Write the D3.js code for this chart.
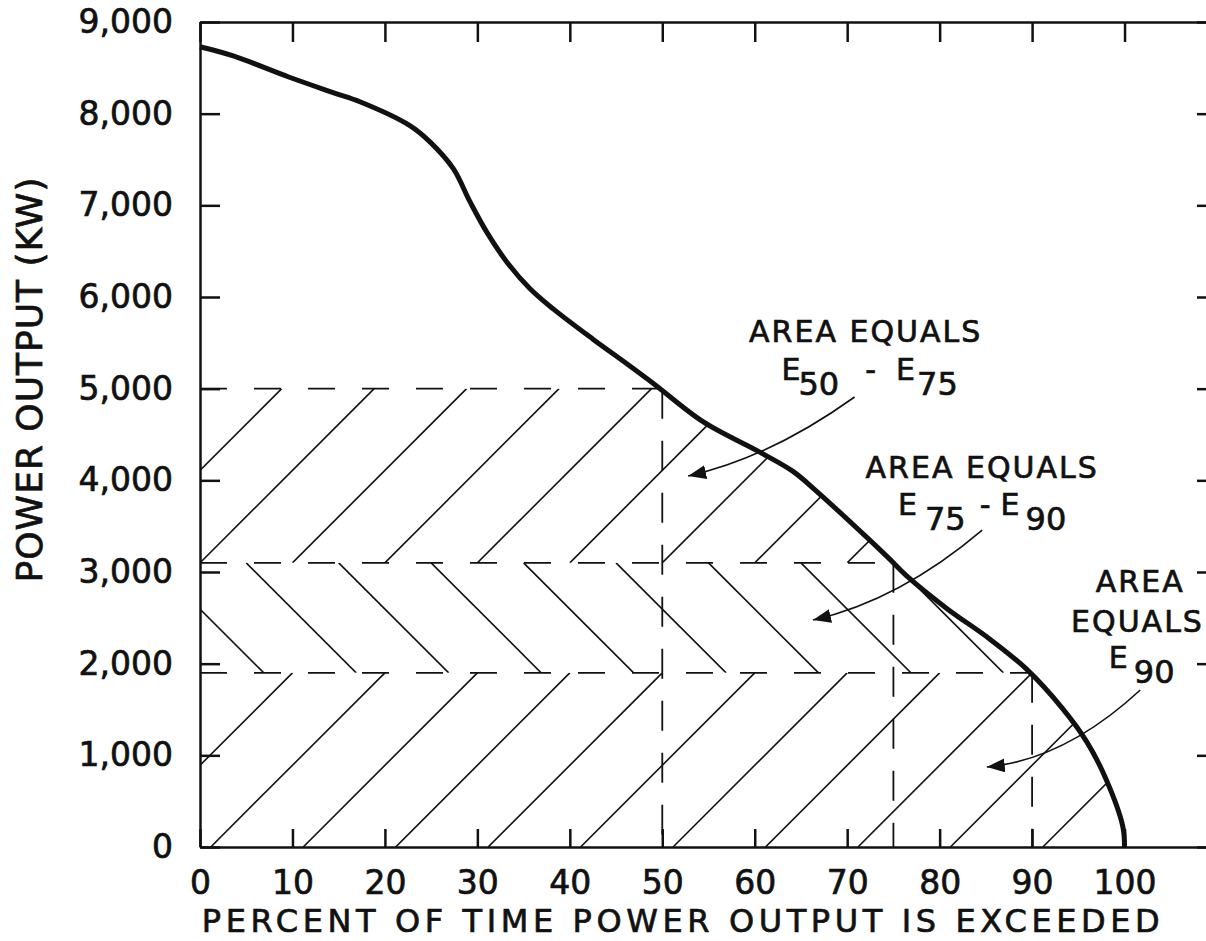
<!DOCTYPE html>
<html>
<head>
<meta charset="utf-8">
<script src="https://cdn.jsdelivr.net/npm/d3@7"></script>
<style>
	body { margin: 0; background: #fff; }
	svg { display: block; }
	text { font-family: "DejaVu Sans", sans-serif; fill: #111; stroke: #111; stroke-width: 0.7px; }
</style>
</head>
<body>
<div id="chart-area"></div>
<script>
// duration curve
var pctValues = [0, 3.6, 9.6, 14.4, 17.3, 22.7, 24.9, 27.4, 29.2, 31, 33.2, 35.7, 38.2, 42.5, 46.2, 49, 54.4, 60.5, 64.1, 66.7, 72.1, 74.6, 76.4, 80.8, 85.4, 89.4, 93.3, 95.9, 98, 99.8, 100];
var powerValues = [8730, 8630, 8400, 8230, 8130, 7870, 7690, 7400, 7040, 6710, 6380, 6090, 5870, 5540, 5270, 5060, 4640, 4310, 4100, 3880, 3380, 3140, 2960, 2600, 2270, 1940, 1510, 1150, 740, 230, 0];

var xTicks = [0, 10, 20, 30, 40, 50, 60, 70, 80, 90, 100];
var yTicks = [0, 1000, 2000, 3000, 4000, 5000, 6000, 7000, 8000, 9000];

// E50, E75, E90
var exceedPct = [50, 75, 90];
var exceedPower = [5000, 3100, 1900];

var noteLines = [
	{ text: 'AREA EQUALS', pct: 72, kw: 5510 },
	{ text: 'AREA EQUALS', pct: 84.6, kw: 4025 },
	{ text: 'AREA', pct: 101.7, kw: 2782 },
	{ text: 'EQUALS', pct: 101.4, kw: 2345 }
];
var noteSymbols = [
	{ pct: 62.9, kw: 5095, parts: [['E', 0, 0], ['50', -2, 1], ['-', 26, 0], ['E', 20, 0], ['75', 2, 1]] },
	{ pct: 75.5, kw: 3622, parts: [['E', 0, 0], ['75', 8, 1], ['-', 14, 0], ['E', 10, 0], ['90', 6, 1]] },
	{ pct: 98.3, kw: 1953, parts: [['E', 0, 0], ['90', 6, 1]] }
];
var noteArrows = [
	[[70.8, 4909], [61.6, 4244], [52.8, 4047]],
	[[84.6, 3458], [75.7, 2695], [66.3, 2476]],
	[[101.7, 1713], [93.5, 949], [85.1, 873]]
];

var margin = { left: 200, top: 22 };
var width = 1017;
var height = 825;

var svg = d3.select('#chart-area')
	.append('svg')
	.attr('width', 1206)
	.attr('height', 941);

var g = svg.append('g')
	.attr('transform', `translate(${margin.left}, ${margin.top})`);

var x = d3.scaleLinear().domain([0, 110]).range([0, width]);
var y = d3.scaleLinear().domain([0, 9000]).range([height, 0]);

var curveData = pctValues.map((p, i) => ({ pct: p, kw: powerValues[i] }));
var smooth = d3.curveCatmullRom.alpha(0.5);

var defs = svg.append('defs');

var area = d3.area()
	.x(d => x(d.pct))
	.y0(y(0))
	.y1(d => y(d.kw))
	.curve(smooth);

defs.append('clipPath')
	.attr('id', 'under')
	.append('path')
	.attr('d', area(curveData));

// three bands: E50-E75, E75-E90, E90
var bands = [
	{ lo: exceedPower[1], hi: exceedPower[0], dir: 'up', starts: d3.range(-10, 81, 10) },
	{ lo: exceedPower[2], hi: exceedPower[1], dir: 'down', starts: d3.range(-5, 86, 10) },
	{ lo: 0, hi: exceedPower[2], dir: 'back', starts: d3.range(10, 121, 10) }
];

bands.forEach((b, i) => {
	defs.append('clipPath')
		.attr('id', 'band' + i)
		.append('rect')
		.attr('x', 0)
		.attr('width', width)
		.attr('y', y(b.hi))
		.attr('height', y(b.lo) - y(b.hi));
});

defs.append('marker')
	.attr('id', 'arrow')
	.attr('markerUnits', 'userSpaceOnUse')
	.attr('markerWidth', 20)
	.attr('markerHeight', 16)
	.attr('refX', 18)
	.attr('refY', 7)
	.attr('orient', 'auto')
	.append('path')
	.attr('d', 'M0,0L18,7L0,14Z')
	.attr('fill', '#111');

// hatching
var hatch = g.append('g').attr('clip-path', 'url(#under)');
bands.forEach((b, i) => {
	var h = y(b.lo) - y(b.hi);
	var bg = hatch.append('g').attr('clip-path', `url(#band${i})`);
	bg.selectAll('line')
		.data(b.starts)
		.enter().append('line')
		.attr('x1', p => x(p))
		.attr('y1', b.dir == 'up' ? y(b.lo) : y(b.hi))
		.attr('x2', p => b.dir == 'back' ? x(p) - h : x(p) + h)
		.attr('y2', b.dir == 'up' ? y(b.hi) : y(b.lo))
		.attr('stroke', '#111')
		.attr('stroke-width', 1.6);
});

// dashed guides
exceedPct.forEach((p, i) => {
	g.append('line')
		.attr('x1', x(0)).attr('x2', x(p))
		.attr('y1', y(exceedPower[i])).attr('y2', y(exceedPower[i]))
		.attr('stroke', '#111').attr('stroke-width', 1.8)
		.attr('stroke-dasharray', '27,27');
	g.append('line')
		.attr('x1', x(p)).attr('x2', x(p))
		.attr('y1', y(exceedPower[i])).attr('y2', y(0))
		.attr('stroke', '#111').attr('stroke-width', 1.8)
		.attr('stroke-dasharray', '30,22');
});

// axes
function styleAxis(sel) {
	sel.select('.domain').attr('stroke', '#111').attr('stroke-width', 2.5);
	sel.selectAll('.tick line').attr('stroke', '#111').attr('stroke-width', 2.5);
	sel.selectAll('text').attr('font-size', 33).attr('fill', '#111');
}

var xAxisCall = d3.axisBottom(x)
	.tickValues(xTicks)
	.tickSizeInner(-18)
	.tickSizeOuter(0)
	.tickPadding(24);
g.append('g')
	.attr('class', 'x axis')
	.attr('transform', `translate(0, ${height})`)
	.call(xAxisCall)
	.call(styleAxis);

var yAxisCall = d3.axisLeft(y)
	.tickValues(yTicks)
	.tickFormat(d3.format(','))
	.tickSizeInner(-20)
	.tickSizeOuter(0)
	.tickPadding(27);
g.append('g')
	.attr('class', 'y axis')
	.call(yAxisCall)
	.call(styleAxis);

g.append('g')
	.call(d3.axisTop(x).tickValues(xTicks.concat([110])).tickSizeInner(-20).tickSizeOuter(0).tickFormat(''))
	.call(styleAxis);

g.append('g')
	.attr('transform', `translate(${width}, 0)`)
	.call(d3.axisRight(y).tickValues(yTicks).tickSizeInner(-20).tickSizeOuter(0).tickFormat(''))
	.call(styleAxis);

// the curve itself
var line = d3.line()
	.x(d => x(d.pct))
	.y(d => y(d.kw))
	.curve(smooth);

g.append('path')
	.attr('d', line(curveData))
	.attr('fill', 'none')
	.attr('stroke', '#111')
	.attr('stroke-width', 5)
	.attr('stroke-linejoin', 'round');

// axis titles
g.append('text')
	.attr('x', x(52))
	.attr('y', height + 85)
	.attr('font-size', 32)
	.attr('text-anchor', 'middle')
	.attr('textLength', 958)
	.attr('lengthAdjust', 'spacing')
	.text('PERCENT OF TIME POWER OUTPUT IS EXCEEDED');

g.append('text')
	.attr('transform', 'rotate(-90)')
	.attr('x', -358)
	.attr('y', -158)
	.attr('font-size', 36)
	.attr('text-anchor', 'middle')
	.attr('textLength', 405)
	.attr('lengthAdjust', 'spacing')
	.text('POWER OUTPUT (KW)');

// annotations
noteLines.forEach(n => {
	g.append('text')
		.attr('x', x(n.pct))
		.attr('y', y(n.kw))
		.attr('font-size', 30)
		.attr('letter-spacing', 2)
		.attr('text-anchor', 'middle')
		.text(n.text);
});

noteSymbols.forEach(n => {
	var t = g.append('text')
		.attr('x', x(n.pct))
		.attr('y', y(n.kw));
	var down = 0;
	n.parts.forEach(p => {
		var dy = p[2] ? 15 - down : -down;
		down = p[2] ? 15 : 0;
		t.append('tspan')
			.attr('dx', p[1])
			.attr('dy', dy)
			.attr('font-size', p[2] ? 32 : 30)
			.text(p[0]);
	});
});

noteArrows.forEach(a => {
	g.append('path')
		.attr('d', `M${x(a[0][0])},${y(a[0][1])}Q${x(a[1][0])},${y(a[1][1])} ${x(a[2][0])},${y(a[2][1])}`)
		.attr('fill', 'none')
		.attr('stroke', '#111')
		.attr('stroke-width', 1.6)
		.attr('marker-end', 'url(#arrow)');
});
</script>
</body>
</html>
